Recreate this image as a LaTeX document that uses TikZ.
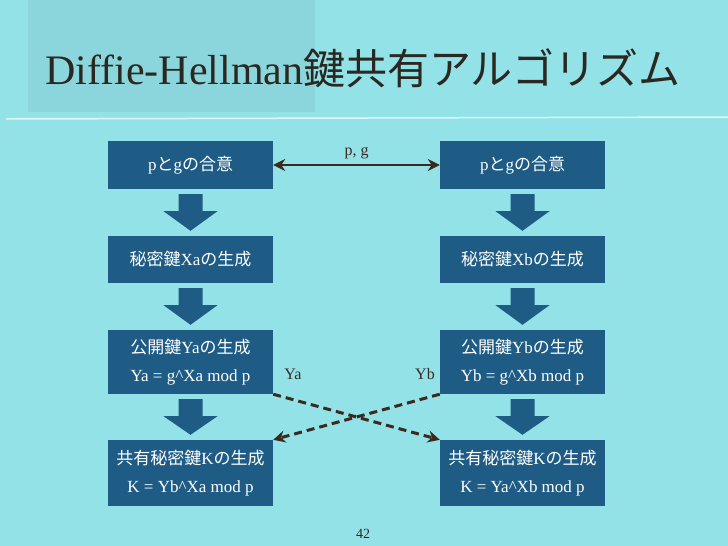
\documentclass[tikz,border=0pt]{standalone}
\usepackage{fontspec}
\setmainfont{Liberation Serif}
\newfontfamily\jp{Noto Sans CJK JP}
\usetikzlibrary{calc,arrows.meta}
\definecolor{slidebg}{RGB}{146,226,232}
\definecolor{titlepatch}{RGB}{139,214,220}
\definecolor{boxblue}{RGB}{30,92,133}
\definecolor{darkline}{RGB}{59,42,30}
\definecolor{titleink}{RGB}{42,40,32}
\begin{document}
\begin{tikzpicture}[x=1pt,y=-1pt,
    stepbox/.style={fill=boxblue,text=white,inner sep=0pt,minimum width=165pt,
      align=center,font=\fontsize{17}{28}\selectfont},
    blockarrow/.style={fill=boxblue},
    keyline/.style={draw=darkline,line width=3pt,dash pattern=on 8pt off 5pt,
      -{Stealth[length=12pt,width=12pt]}},
    keylabel/.style={text=darkline,inner sep=1pt,font=\fontsize{16}{19}\selectfont}]
  % \clip (0,0) rectangle (728,546);
  \useasboundingbox (0,0) rectangle (728,546);

  % Drawing slide background
  \fill [slidebg] (0,0) rectangle (728,546);%
  \fill [titlepatch] (28,0) rectangle (315,112);%
  \draw [white,opacity=0.7,line width=1.5pt] (6,119) -- (728,117);%

  % Title
  \node [anchor=base west,inner sep=0pt,text=titleink,font=\fontsize{42}{48}\selectfont]
    (title) at (45,84) {Diffie-Hellman{\jp 鍵共有アルゴリズム}};%

  % Left column (A)
  \node [stepbox,minimum height=48pt] (l1) at (190.5,165) {p{\jp と}g{\jp の合意}};%
  \node [stepbox,minimum height=47pt] (l2) at (190.5,259.5) {{\jp 秘密鍵}Xa{\jp の生成}};%
  \node [stepbox,minimum height=64pt] (l3) at (190.5,362) {{\jp 公開鍵}Ya{\jp の生成}\\Ya = g\^{}Xa mod p};%
  \node [stepbox,minimum height=66pt] (l4) at (190.5,473) {{\jp 共有秘密鍵}K{\jp の生成}\\K = Yb\^{}Xa mod p};%

  % Right column (B)
  \node [stepbox,minimum height=48pt] (r1) at (522.5,165) {p{\jp と}g{\jp の合意}};%
  \node [stepbox,minimum height=47pt] (r2) at (522.5,259.5) {{\jp 秘密鍵}Xb{\jp の生成}};%
  \node [stepbox,minimum height=64pt] (r3) at (522.5,362) {{\jp 公開鍵}Yb{\jp の生成}\\Yb = g\^{}Xb mod p};%
  \node [stepbox,minimum height=66pt] (r4) at (522.5,473) {{\jp 共有秘密鍵}K{\jp の生成}\\K = Ya\^{}Xb mod p};%

  % Drawing block arrows between steps
  \foreach \u/\l in {l1/l2,l2/l3,l3/l4,r1/r2,r2/r3,r3/r4}
    \fill [blockarrow] ($(\u.south)+(-12,5)$) -- ($(\u.south)+(12,5)$)
      -- ($(\u.south)+(12,22)$) -- ($(\u.south)+(27,22)$) -- ($(\l.north)+(0,-5)$)
      -- ($(\u.south)+(-27,22)$) -- ($(\u.south)+(-12,22)$) -- cycle;%

  % Drawing line p, g
  \draw [darkline,line width=2.6pt,{Stealth[length=12pt,width=12pt]}-{Stealth[length=12pt,width=12pt]}]
    (l1.east) -- (r1.west) node [midway,above=4pt,keylabel] (pg) {p, g};%

  % Exchanging public keys
  \draw [keyline] (l3.south east) -- (r4.north west);%
  \draw [keyline] (r3.south west) -- (l4.north east);%
  \node [keylabel] (ya) at (293,374) {Ya};%
  \node [keylabel] (yb) at (425,374) {Yb};%

  % Page number
  \node [text=titleink,font=\fontsize{14}{16}\selectfont] (page) at (363,534) {42};%
\end{tikzpicture}
\end{document}
